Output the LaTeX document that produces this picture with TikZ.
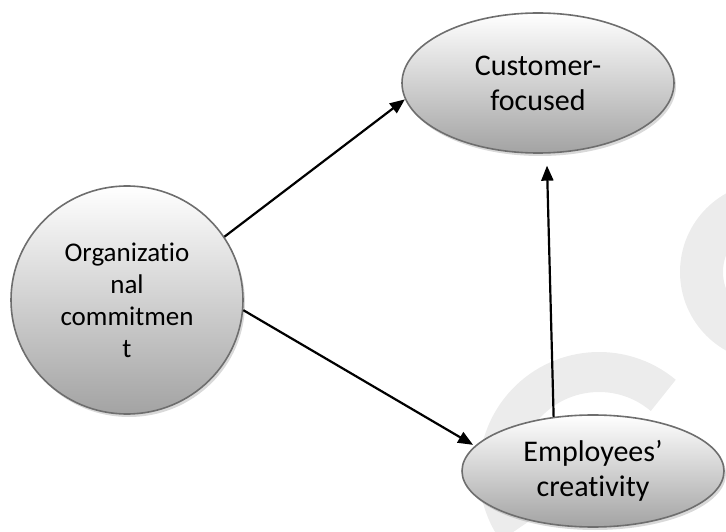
\documentclass[tikz,border=0pt]{standalone}
\usepackage{fontspec}
\setmainfont[RawFeature={-liga,-calt,-dlig}]{Carlito}
\usetikzlibrary{shapes.geometric,arrows.meta,shadows}
\definecolor{vien}{RGB}{110,110,110}
\definecolor{nen}{RGB}{236,236,236}

\begin{document}
\begin{tikzpicture}[>={Triangle[length=15pt,width=12pt]},x=1pt,y=1pt,
	khoi/.style={ellipse,draw=vien,line width=1.6pt,top color=white,bottom color=gray!72,
		drop shadow={shadow xshift=2pt,shadow yshift=-3pt,opacity=.3},
		align=center,inner sep=0pt,font=\fontsize{30}{35}\selectfont}]
	\useasboundingbox (0,0) rectangle (726,531);
	%	\draw[color=gray,dash pattern=on 1pt off 1pt,step=50] (0,0) grid (726,531);
	\begin{scope}
		\clip (0,0) rectangle (726,531);
		\draw[nen,line width=43] (770,259) ++(90:68.5) arc[start angle=90,end angle=270,radius=68.5];
		\draw[nen,line width=40] (599,59) ++(50:100) arc[start angle=50,end angle=215,radius=100];
	\end{scope}
	\node[khoi,minimum width=232pt,minimum height=228pt,font=\fontsize{27}{32}\selectfont] (org) at (127,231) {Organizatio\\nal\\commitmen\\t};
	\node[khoi,minimum width=272pt,minimum height=140pt] (cust) at (538,448) {Customer-\\focused};
	\node[khoi,minimum width=262pt,minimum height=112pt] (emp) at (593,60) {Employees’\\creativity};
	\draw[->,line width=2.2pt] (org.33) -- (cust.187);
	\draw[->,line width=2.2pt,shorten >=2pt] (org.-5) -- (emp.168);
	\draw[->,line width=2.2pt,shorten >=12pt] (emp.126) -- (cust.277);
\end{tikzpicture}
\end{document}
